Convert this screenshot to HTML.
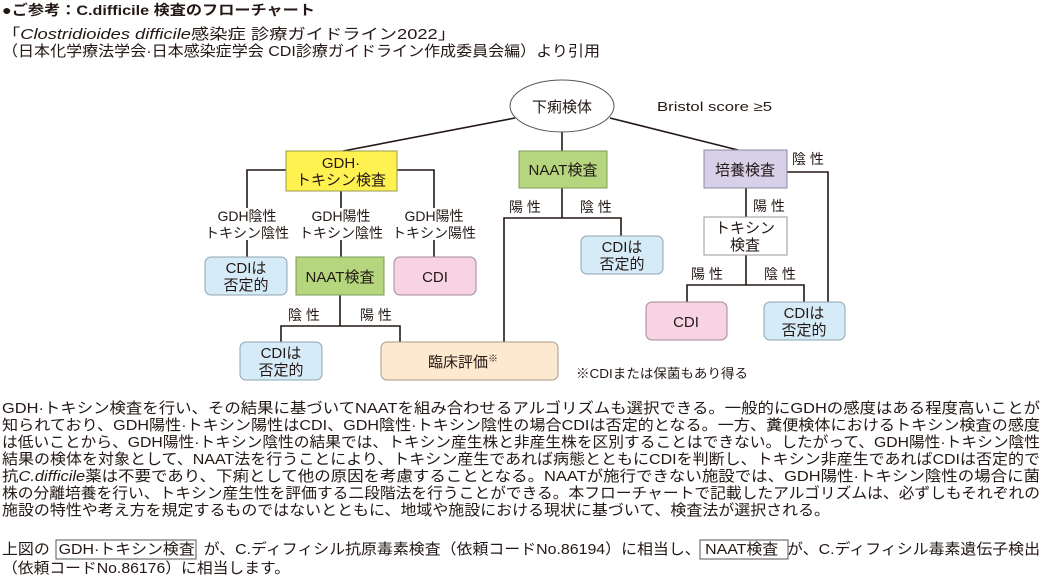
<!DOCTYPE html>
<html><head><meta charset="utf-8"><style>
html,body{margin:0;padding:0;background:#fff;}
svg{display:block;}
text{font-family:"Liberation Sans","Noto Sans CJK JP",sans-serif;fill:#231815;}
</style></head><body>
<svg width="1045" height="575" viewBox="0 0 1045 575" xmlns="http://www.w3.org/2000/svg">
<!-- header -->
<text x="2" y="15" font-size="14" font-weight="bold" textLength="313" lengthAdjust="spacingAndGlyphs">●ご参考：C.difficile 検査のフローチャート</text>
<text x="2" y="39" font-size="15" textLength="454" lengthAdjust="spacingAndGlyphs">「<tspan font-style="italic">Clostridioides difficile</tspan>感染症 診療ガイドライン2022」</text>
<text x="2" y="56" font-size="15" textLength="598" lengthAdjust="spacingAndGlyphs">（日本化学療法学会·日本感染症学会 CDI診療ガイドライン作成委員会編）より引用</text>

<!-- connectors -->
<g stroke="#231815" stroke-width="1.6" fill="none">
<line x1="515" y1="118" x2="343" y2="151"/>
<line x1="562" y1="132" x2="562" y2="151"/>
<line x1="610" y1="118" x2="738" y2="150"/>
<polyline points="286,170 247,170 247,208"/>
<polyline points="397,170 434,170 434,208"/>
<line x1="341" y1="191" x2="341" y2="208"/>
<line x1="247" y1="240" x2="247" y2="257"/>
<line x1="341" y1="240" x2="341" y2="257"/>
<line x1="434" y1="240" x2="434" y2="257"/>
<line x1="340" y1="295" x2="340" y2="326"/>
<polyline points="281,342 281,326 400,326 400,342"/>
<line x1="562" y1="188" x2="562" y2="218"/>
<polyline points="504,342 504,218 621,218 621,236"/>
<line x1="746" y1="188" x2="746" y2="217"/>
<line x1="746" y1="255" x2="746" y2="285"/>
<polyline points="687,302 687,285 804,285 804,302"/>
<polyline points="787,172 828,172 828,302"/>
</g>

<!-- nodes -->
<ellipse cx="562" cy="106" rx="52" ry="26" fill="#fff" stroke="#555" stroke-width="1"/>
<text x="562" y="112" font-size="15" text-anchor="middle">下痢検体</text>
<text x="657" y="111" font-size="13" textLength="115" lengthAdjust="spacingAndGlyphs">Bristol score ≥5</text>

<rect x="286" y="151" width="111" height="40" fill="#fff14f" stroke="#9a9a50" stroke-width="1"/>
<text x="341" y="168" font-size="15" text-anchor="middle">GDH·</text>
<text x="341" y="185" font-size="15" text-anchor="middle">トキシン検査</text>

<rect x="519" y="151" width="88" height="37" fill="#b5d67e" stroke="#7f9a5a" stroke-width="1"/>
<text x="563" y="175" font-size="15" text-anchor="middle">NAAT検査</text>

<rect x="704" y="150" width="83" height="38" fill="#d6d0e8" stroke="#8c88a0" stroke-width="1"/>
<text x="745" y="175" font-size="15" text-anchor="middle">培養検査</text>

<g font-size="14" text-anchor="middle">
<text x="247" y="221">GDH陰性</text><text x="247" y="238">トキシン陰性</text>
<text x="341" y="221">GDH陽性</text><text x="341" y="238">トキシン陰性</text>
<text x="434" y="221">GDH陽性</text><text x="434" y="238">トキシン陽性</text>
</g>

<rect x="205" y="257" width="82" height="38" rx="6" fill="#d6ebf8" stroke="#8da3b0" stroke-width="1"/>
<text x="246" y="273" font-size="15" text-anchor="middle">CDIは</text>
<text x="246" y="290" font-size="15" text-anchor="middle">否定的</text>

<rect x="296" y="257" width="88" height="38" fill="#b5d67e" stroke="#7f9a5a" stroke-width="1"/>
<text x="340" y="282" font-size="15" text-anchor="middle">NAAT検査</text>

<rect x="394" y="257" width="82" height="38" rx="6" fill="#f7d3e4" stroke="#a08a95" stroke-width="1"/>
<text x="435" y="282" font-size="15" text-anchor="middle">CDI</text>

<g font-size="14">
<text x="288" y="320">陰 性</text>
<text x="360" y="320">陽 性</text>
<text x="509" y="212">陽 性</text>
<text x="580" y="212">陰 性</text>
<text x="753" y="211">陽 性</text>
<text x="691" y="279">陽 性</text>
<text x="764" y="279">陰 性</text>
<text x="792" y="164">陰 性</text>
</g>

<rect x="581" y="236" width="82" height="38" rx="6" fill="#d6ebf8" stroke="#8da3b0" stroke-width="1"/>
<text x="622" y="252" font-size="15" text-anchor="middle">CDIは</text>
<text x="622" y="269" font-size="15" text-anchor="middle">否定的</text>

<rect x="704" y="217" width="83" height="38" fill="#fff" stroke="#999" stroke-width="1"/>
<text x="745" y="233" font-size="15" text-anchor="middle">トキシン</text>
<text x="745" y="250" font-size="15" text-anchor="middle">検査</text>

<rect x="646" y="302" width="81" height="38" rx="6" fill="#f7d3e4" stroke="#a08a95" stroke-width="1"/>
<text x="686" y="327" font-size="15" text-anchor="middle">CDI</text>

<rect x="764" y="302" width="81" height="38" rx="6" fill="#d6ebf8" stroke="#8da3b0" stroke-width="1"/>
<text x="804" y="318" font-size="15" text-anchor="middle">CDIは</text>
<text x="804" y="335" font-size="15" text-anchor="middle">否定的</text>

<rect x="240" y="342" width="82" height="38" rx="6" fill="#d6ebf8" stroke="#8da3b0" stroke-width="1"/>
<text x="281" y="358" font-size="15" text-anchor="middle">CDIは</text>
<text x="281" y="375" font-size="15" text-anchor="middle">否定的</text>

<rect x="381" y="342" width="177" height="38" rx="6" fill="#fde9cf" stroke="#a89a85" stroke-width="1"/>
<text x="463" y="367" font-size="15" text-anchor="middle">臨床評価<tspan font-size="10" dy="-5">※</tspan></text>

<text x="576" y="378" font-size="13" textLength="172" lengthAdjust="spacingAndGlyphs">※CDIまたは保菌もあり得る</text>

<!-- body -->
<g font-size="15" lengthAdjust="spacingAndGlyphs">
<text x="2" y="413" textLength="1038" lengthAdjust="spacingAndGlyphs">GDH·トキシン検査を行い、その結果に基づいてNAATを組み合わせるアルゴリズムも選択できる。一般的にGDHの感度はある程度高いことが</text>
<text x="2" y="430" textLength="1038" lengthAdjust="spacingAndGlyphs">知られており、GDH陽性·トキシン陽性はCDI、GDH陰性·トキシン陰性の場合CDIは否定的となる。一方、糞便検体におけるトキシン検査の感度</text>
<text x="2" y="447" textLength="1038" lengthAdjust="spacingAndGlyphs">は低いことから、GDH陽性·トキシン陰性の結果では、トキシン産生株と非産生株を区別することはできない。したがって、GDH陽性·トキシン陰性</text>
<text x="2" y="464" textLength="1038" lengthAdjust="spacingAndGlyphs">結果の検体を対象として、NAAT法を行うことにより、トキシン産生であれば病態とともにCDIを判断し、トキシン非産生であればCDIは否定的で</text>
<text x="2" y="481" textLength="1038" lengthAdjust="spacingAndGlyphs">抗<tspan font-style="italic">C.difficile</tspan>薬は不要であり、下痢として他の原因を考慮することとなる。NAATが施行できない施設では、GDH陽性·トキシン陰性の場合に菌</text>
<text x="2" y="498" textLength="1038" lengthAdjust="spacingAndGlyphs">株の分離培養を行い、トキシン産生性を評価する二段階法を行うことができる。本フローチャートで記載したアルゴリズムは、必ずしもそれぞれの</text>
<text x="2" y="515" textLength="828" lengthAdjust="spacingAndGlyphs">施設の特性や考え方を規定するものではないとともに、地域や施設における現状に基づいて、検査法が選択される。</text>
<text x="2" y="554" textLength="1038" lengthAdjust="spacingAndGlyphs">上図の <tspan fill="#fff">.</tspan>GDH·トキシン検査<tspan fill="#fff">.</tspan> が、C.ディフィシル抗原毒素検査（依頼コードNo.86194）に相当し、<tspan fill="#fff">.</tspan>NAAT検査<tspan fill="#fff">.</tspan> が、C.ディフィシル毒素遺伝子検出</text>
<text x="2" y="573" textLength="288" lengthAdjust="spacingAndGlyphs">（依頼コードNo.86176）に相当します。</text>
</g>
<rect x="56" y="540" width="140" height="19" fill="none" stroke="#555" stroke-width="1"/>
<rect x="700" y="540" width="88" height="19" fill="none" stroke="#555" stroke-width="1"/>
</svg>
</body></html>
